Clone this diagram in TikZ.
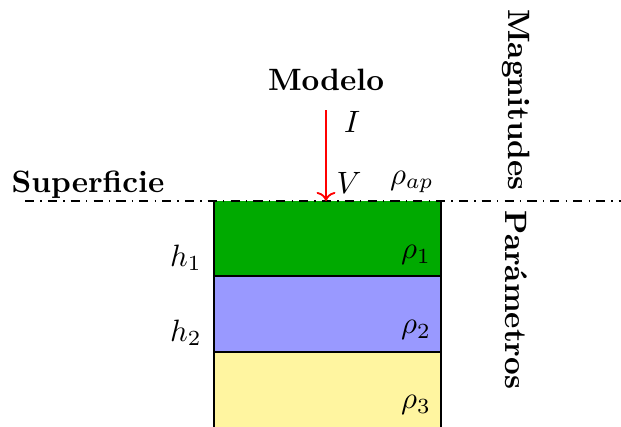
\documentclass[tikz,border=0pt]{standalone}
\usepackage{xcolor}
\usepackage{tikz}
\usetikzlibrary{arrows.meta,calc,positioning}
\definecolor{capa1}{RGB}{0,170,0}
\definecolor{capa2}{RGB}{153,153,255}
\definecolor{capa3}{RGB}{255,245,160}
\begin{document}
\begin{tikzpicture}[lbl/.style={inner sep=1pt}]
\useasboundingbox (0,0) rectangle (7.073,4.863);
\fill[capa1] (2.437,1.72) rectangle (5.023,2.574);
\fill[capa2] (2.437,.854) rectangle (5.023,1.72);
\fill[capa3] (2.437,0) rectangle (5.023,.854);
\draw (2.437,0)--(2.437,2.574) (5.023,0)--(5.023,2.574) (2.437,1.72)--(5.023,1.72) (2.437,.854)--(5.023,.854);
\draw[dash dot,semithick] (.285,2.574)--(7.073,2.574);
\node[font=\bfseries] (modelo) at (3.713,3.952){Modelo};
\coordinate (fuente) at (3.713,3.61); \coordinate (sup) at (3.713,2.574);
\draw[red,semithick,->] (fuente)--(sup);
\node[lbl] (i) at (4.009,3.474){$I$};
\node[lbl] (v) at (3.975,2.779){$V$};
\node[lbl] (rap) at (4.692,2.79){$\rho_{ap}$};
\node[font=\bfseries] (superficie) at (1.002,2.756){Superficie};
\node[lbl] (h1) at (2.118,1.925){$h_1$};
\node[lbl] (h2) at (2.118,1.071){$h_2$};
\foreach \n/\y in {1/1.959,2/1.105,3/.251}{\node[lbl] (r\n) at (4.738,\y){$\rho_\n$};}
\node[font=\bfseries,rotate=-90] (mag) at (5.877,3.724){Magnitudes};
\node[font=\bfseries,rotate=-90] (par) at (5.877,1.446){Parámetros};
\end{tikzpicture}
\end{document}
